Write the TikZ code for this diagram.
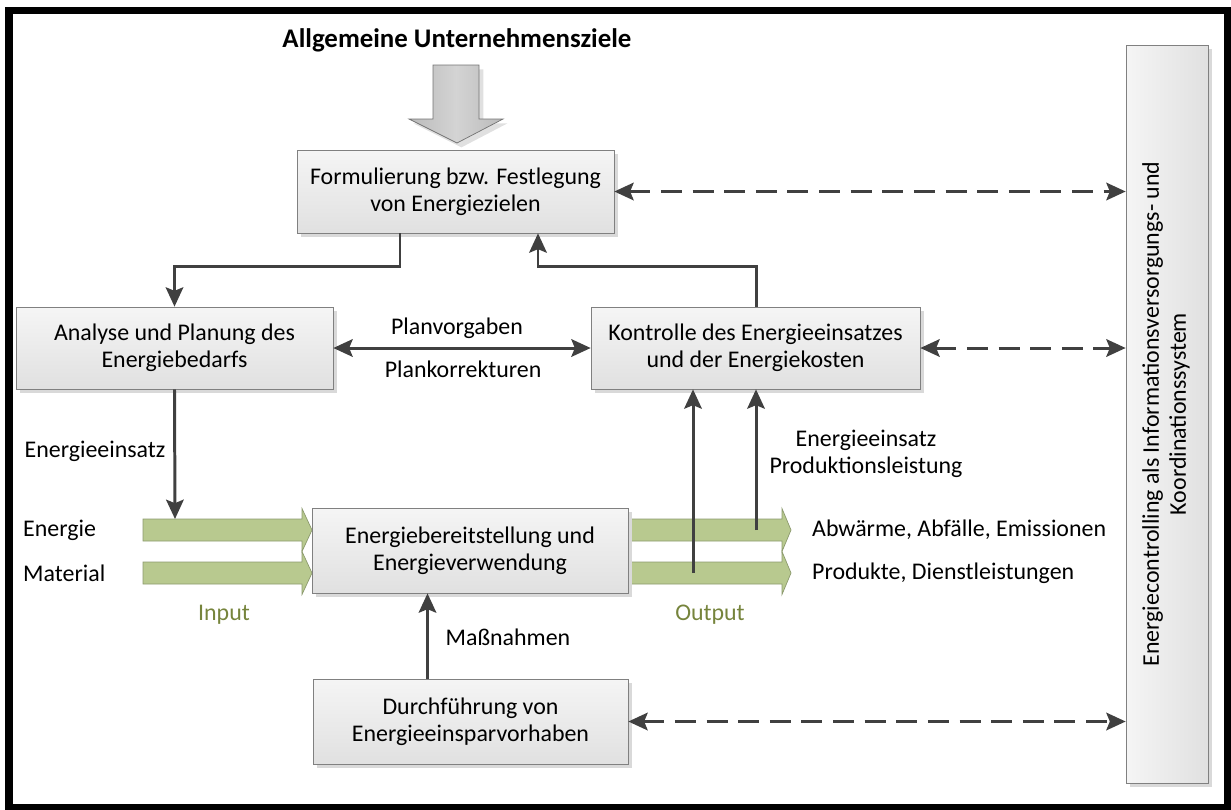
\documentclass[tikz,border=0pt]{standalone}
\usepackage{fontspec}
\setmainfont{Carlito}
\usetikzlibrary{arrows.meta, shadows}

\definecolor{linegrey}{HTML}{404040}
\definecolor{flowfill}{HTML}{B8C98F}
\definecolor{flowdraw}{HTML}{8C9A6E}
\definecolor{olivetext}{HTML}{76843C}

\begin{document}
\begin{tikzpicture}[
    x=0.02cm, y=-0.02cm,
    every node/.style={font=\fontsize{13.6}{15.4}\selectfont},
    % Process box: grey gradient, thin border, drop shadow
    proc/.style={rectangle, draw=black!50, thin, top color=black!4, bottom color=black!12,
        drop shadow={shadow xshift=2.5pt, shadow yshift=-2.5pt, fill=black!15, opacity=1},
        align=center, inner sep=3pt},
    % Solid connector
    conn/.style={draw=linegrey, line width=1.7pt, -{Stealth[length=11pt, width=10pt, inset=2pt]}},
    both/.style={conn, {Stealth[length=11pt, width=10pt, inset=2pt]}-{Stealth[length=11pt, width=10pt, inset=2pt]}},
    % Dashed link to the side system
    dconn/.style={both, dash pattern=on 12pt off 6pt},
    % Green material/energy flow
    flow/.style={fill=flowfill, draw=flowdraw, thin},
    % Big grey arrow on top
    bigarrow/.style={draw=black!55, thin, left color=black!27, right color=black!27, middle color=black!17,
        drop shadow={shadow xshift=2.5pt, shadow yshift=-2.5pt, fill=black!12, opacity=1}},
    flowlabel/.style={text=olivetext},
]

\useasboundingbox (0,0) rectangle (1231,809);

% outer frame
\draw[line width=4pt] (9,10.5) rectangle (1228,807.5);

% ====================================================
% TOP: goals
% ====================================================
\node[font=\bfseries\fontsize{15.3}{18}\selectfont] (title) at (457,40) {Allgemeine Unternehmensziele};
\draw[bigarrow] (433,65) -- (479,65) -- (479,119) -- (503,119) -- (457,143) -- (409,119) -- (433,119) -- cycle;

% ====================================================
% BOXES
% ====================================================
\node[proc, minimum width=6.34cm, minimum height=1.66cm] (ziele) at (455.5,191.5)
    {Formulierung bzw. Festlegung\\von Energiezielen};
\node[proc, minimum width=6.34cm, minimum height=1.64cm] (analyse) at (174.5,348)
    {Analyse und Planung des\\Energiebedarfs};
\node[proc, minimum width=6.58cm, minimum height=1.64cm] (kontrolle) at (755.5,348)
    {Kontrolle des Energieeinsatzes\\und der Energiekosten};

% flows (under the middle box)
\draw[flow] (143,519) -- (302,519) -- (302,508.5) -- (312,530) -- (302,551.5) -- (302,541) -- (143,541) -- cycle;
\draw[flow] (143,562) -- (302,562) -- (302,551.5) -- (312,573) -- (302,594.5) -- (302,584) -- (143,584) -- cycle;
\draw[flow] (628,519) -- (782,519) -- (782,508.5) -- (791,530) -- (782,551.5) -- (782,541) -- (628,541) -- cycle;
\draw[flow] (628,562) -- (782,562) -- (782,551.5) -- (791,573) -- (782,594.5) -- (782,584) -- (628,584) -- cycle;

\node[proc, minimum width=6.32cm, minimum height=1.7cm] (bereit) at (470,550.5)
    {Energiebereitstellung und\\Energieverwendung};
\node[proc, minimum width=6.30cm, minimum height=1.7cm] (durch) at (470.5,721.5)
    {Durchführung von\\Energieeinsparvorhaben};
\node[proc, left color=black!4, right color=black!12, minimum width=1.64cm, minimum height=14.76cm] (info) at (1167,414)
    {\rotatebox{90}{\begin{tabular}{@{}c@{}}Energiecontrolling als Informationsversorgungs- und\\Koordinationssystem\end{tabular}}};

% ====================================================
% LABELS
% ====================================================
\node[anchor=west] (l-energie) at (17,530) {Energie};
\node[anchor=west] (l-material) at (17,573) {Material};
\node[flowlabel] (l-input) at (224,615) {Input};
\node[flowlabel] (l-output) at (710,615) {Output};
\node[anchor=west] (l-abw) at (806,530) {Abwärme, Abfälle, Emissionen};
\node[anchor=west] (l-prod) at (806,573) {Produkte, Dienstleistungen};
\node (l-einsatz) at (95,451) {Energieeinsatz};
\node[align=center] (l-leistung) at (866,454) {Energieeinsatz\\Produktionsleistung};
\node (l-vorgaben) at (457,328) {Planvorgaben};
\node (l-korr) at (463,369) {Plankorrekturen};
\node (l-massn) at (508,637) {Maßnahmen};

% ====================================================
% CONNECTORS
% ====================================================
\coordinate (k1) at (400,266);
\coordinate (k2) at (756,266);
\coordinate (k3) at (538,266);
\coordinate (in1) at (175,519);
\coordinate (out1) at (756,530);
\coordinate (out2) at (693,573);
\coordinate (mx) at (427.5,650);

\draw[conn] (ziele.south -| k1) -- (k1) -| (analyse.north);
\draw[conn] (kontrolle.north -| k2) -- (k2) -- (k3) -- (ziele.south -| k3);
\draw[both] (analyse.east) -- (kontrolle.west);
\draw[conn] (analyse.south) -- (in1);
\draw[conn] (out1) -- (kontrolle.south -| out1);
\draw[conn] (out2) -- (kontrolle.south -| out2);
\draw[conn] (durch.north -| mx) -- (bereit.south -| mx);

\draw[dconn] (ziele.east) -- (ziele.east -| info.west);
\draw[dconn] (kontrolle.east) -- (kontrolle.east -| info.west);
\draw[dconn] (durch.east) -- (durch.east -| info.west);

\end{tikzpicture}
\end{document}
